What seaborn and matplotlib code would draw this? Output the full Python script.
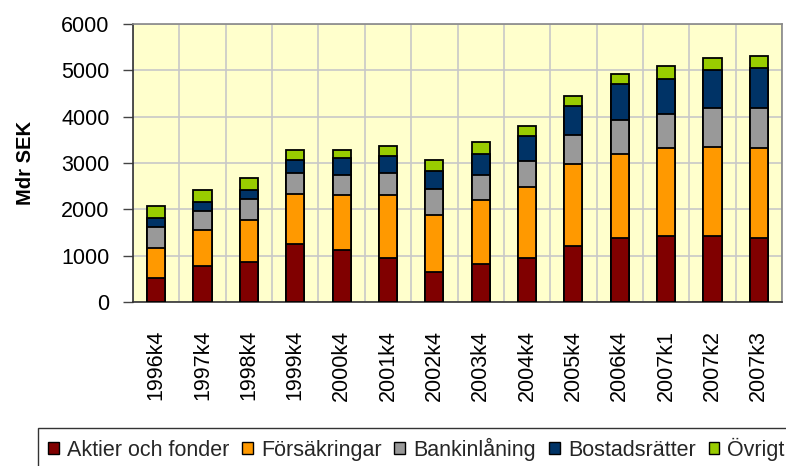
import numpy as np
import pandas as pd
import matplotlib
matplotlib.use("Agg")
import matplotlib.pyplot as plt
import seaborn as sns
from matplotlib.patches import Patch

# Kvartal och belopp (Mdr SEK)
kvartal = ["1996k4", "1997k4", "1998k4", "1999k4", "2000k4", "2001k4", "2002k4",
           "2003k4", "2004k4", "2005k4", "2006k4", "2007k1", "2007k2", "2007k3"]
aktier = [520, 778, 857, 1253, 1123, 943, 641, 821, 943, 1202, 1382, 1425, 1425, 1382]
forsakringar = [640, 777, 914, 1073, 1195, 1375, 1238, 1375, 1548, 1779, 1808, 1901, 1930, 1944]
bankinlaning = [467, 417, 461, 467, 425, 475, 569, 554, 561, 633, 734, 728, 828, 857]
bostadsratter = [180, 188, 180, 274, 360, 360, 388, 440, 533, 612, 777, 769, 828, 864]
ovrigt = [266, 259, 266, 209, 173, 224, 231, 266, 216, 223, 223, 274, 259, 266]

serier = ["Aktier och fonder", "Försäkringar", "Bankinlåning", "Bostadsrätter", "Övrigt"]
farger = ["#800000", "#FF9900", "#999999", "#003366", "#99CC00"]

df = pd.DataFrame({"kvartal": kvartal,
                   serier[0]: aktier, serier[1]: forsakringar, serier[2]: bankinlaning,
                   serier[3]: bostadsratter, serier[4]: ovrigt})
cum = df[serier].cumsum(axis=1)
cum["kvartal"] = df["kvartal"]

sns.set_theme(style="white")
plt.rcParams["font.family"] = ["Liberation Sans", "DejaVu Sans"]

fig = plt.figure(figsize=(7.86, 4.66), dpi=100)
ax = fig.add_axes([133 / 786, 1 - 302 / 466, 649 / 786, 278 / 466])
ax.set_facecolor("#FFFFCC")

# stacked: draw the cumulative totals from the top series down
for namn, farg in zip(serier[::-1], farger[::-1]):
    sns.barplot(data=cum, x="kvartal", y=namn, color=farg, width=0.39,
                edgecolor="black", linewidth=1.3, saturation=1, ax=ax, zorder=3)

ax.set_xlim(-0.5, len(kvartal) - 0.5)
ax.set_ylim(0, 6000)
ax.set_yticks(range(0, 6001, 1000))
ax.set_xticks(np.arange(len(kvartal)))
ax.set_xticklabels(kvartal, rotation=90, fontsize=15.5, color="black")
ax.set_xticks(np.arange(len(kvartal) + 1) - 0.5, minor=True)
ax.tick_params(axis="x", which="major", length=0, pad=20)
ax.tick_params(axis="x", which="minor", length=6, width=1, color="#444444", direction="out")
ax.tick_params(axis="y", labelsize=15.5, length=7, width=1, color="#444444", pad=10,
               direction="out", left=True, labelcolor="black")
ax.grid(True, axis="y", color="#C8C8C8", linewidth=1.2, zorder=0)
ax.grid(True, axis="x", which="minor", color="#C8C8C8", linewidth=1.2, zorder=0)
ax.set_axisbelow(True)

ax.set_xlabel("")
ax.set_ylabel("Mdr SEK", fontsize=14.5, fontweight="bold", color="black")
ax.yaxis.set_label_coords(-0.151, 0.5)
for side in ["left", "bottom"]:
    ax.spines[side].set_color("#333333")
    ax.spines[side].set_linewidth(1.2)
for side in ["top", "right"]:
    ax.spines[side].set_color("#888888")
    ax.spines[side].set_linewidth(1.2)

handles = [Patch(facecolor=f, edgecolor="black", linewidth=1) for f in farger]
leg = fig.legend(handles, serier, loc="upper left",
                 bbox_to_anchor=(38 / 786, 1 - 428 / 466), ncol=5, fontsize=15.5,
                 frameon=True, fancybox=False, handlelength=0.51, handleheight=0.51,
                 handletextpad=0.37, columnspacing=0.6, borderpad=0.45,
                 borderaxespad=0)
leg.get_frame().set_edgecolor("black")
leg.get_frame().set_linewidth(1)

fig.savefig("out.png", dpi=100)
